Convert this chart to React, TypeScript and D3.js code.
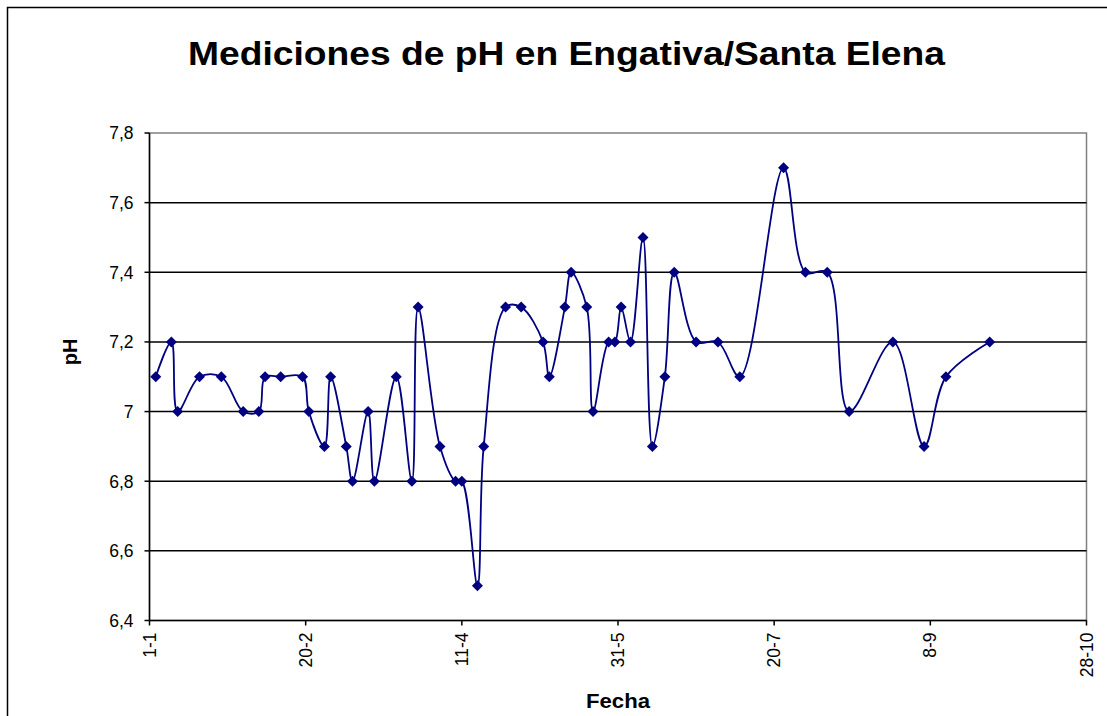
import React from "react";
import * as d3 from "d3";

// Day offset from 1-1 and pH value
const days = [2, 7, 9, 16, 23, 30, 35, 37, 42, 49, 51, 56, 58, 63, 65, 70, 72, 79, 84, 86, 93, 98, 100, 105, 107, 114, 119, 126, 128, 133, 135, 140, 142, 147, 149, 151, 154, 158, 161, 165, 168, 175, 182, 189, 203, 210, 217, 224, 238, 248, 255, 269];
const phValues = [7.1, 7.2, 7.0, 7.1, 7.1, 7.0, 7.0, 7.1, 7.1, 7.1, 7.0, 6.9, 7.1, 6.9, 6.8, 7.0, 6.8, 7.1, 6.8, 7.3, 6.9, 6.8, 6.8, 6.5, 6.9, 7.3, 7.3, 7.2, 7.1, 7.3, 7.4, 7.3, 7.0, 7.2, 7.2, 7.3, 7.2, 7.5, 6.9, 7.1, 7.4, 7.2, 7.2, 7.1, 7.7, 7.4, 7.4, 7.0, 7.2, 6.9, 7.1, 7.2];
const xTickDays = [0, 50, 100, 150, 200, 250, 300];
const xTickLabels = ["1-1", "20-2", "11-4", "31-5", "20-7", "8-9", "28-10"];
const yTicks = [6.4, 6.6, 6.8, 7.0, 7.2, 7.4, 7.6, 7.8];
const yTickLabels = ["6,4", "6,6", "6,8", "7", "7,2", "7,4", "7,6", "7,8"];

const W = 1107;
const H = 716;
const left = 149.5;
const right = 1086.5;
const top = 133;
const bottom = 620.5;

export default function App() {
  const x = d3.scaleLinear().domain([0, 300]).range([left, right]);
  const y = d3.scaleLinear().domain([6.4, 7.8]).range([bottom, top]);
  const pts = days.map((d, i) => [x(d), y(phValues[i])] as [number, number]);
  const line = d3.line().curve(d3.curveCatmullRom.alpha(0.5))(pts) || "";
  const font = "Arial, 'Liberation Sans', sans-serif";

  return (
    <svg width={W} height={H} style={{ position: "absolute", left: 0, top: 0, background: "#fff" }}>
      <rect x={7.5} y={7.5} width={W + 10} height={H + 10} fill="#fff" stroke="#000" strokeWidth={1.5} />
      <text x={566.5} y={65} textAnchor="middle" fontFamily={font} fontWeight="bold" fontSize={33}
        textLength={757} lengthAdjust="spacingAndGlyphs">
        Mediciones de pH en Engativa/Santa Elena
      </text>
      {/* plot area border */}
      <rect x={left} y={top} width={right - left} height={bottom - top} fill="none" stroke="#808080" strokeWidth={1.5} />
      {/* gridlines */}
      {yTicks.slice(1, -1).map((t) => (
        <line key={t} x1={left} x2={right} y1={y(t)} y2={y(t)} stroke="#000" strokeWidth={1.5} />
      ))}
      {/* axes */}
      <line x1={left} x2={left} y1={top} y2={bottom} stroke="#000" strokeWidth={1.5} />
      <line x1={left} x2={right} y1={bottom} y2={bottom} stroke="#000" strokeWidth={1.5} />
      {yTicks.map((t, i) => (
        <g key={"y" + t}>
          <line x1={left - 5} x2={left} y1={y(t)} y2={y(t)} stroke="#000" strokeWidth={1.5} />
          <text x={133.5} y={y(t) + 6.3} textAnchor="end" fontFamily={font} fontSize={17.5}>
            {yTickLabels[i]}
          </text>
        </g>
      ))}
      {xTickDays.map((d, i) => (
        <g key={"x" + d}>
          <line x1={x(d)} x2={x(d)} y1={bottom} y2={bottom + 5} stroke="#000" strokeWidth={1.5} />
          <text
            transform={`translate(${x(d) + 6},${bottom + 12}) rotate(-90)`}
            textAnchor="end"
            fontFamily={font}
            fontSize={17.5}
          >
            {xTickLabels[i]}
          </text>
        </g>
      ))}
      <text transform={`translate(77,352) rotate(-90)`} textAnchor="middle" fontFamily={font} fontWeight="bold" fontSize={20}>
        pH
      </text>
      <text x={618} y={708} textAnchor="middle" fontFamily={font} fontWeight="bold" fontSize={20}
        textLength={64} lengthAdjust="spacingAndGlyphs">
        Fecha
      </text>
      <path d={line} fill="none" stroke="#000080" strokeWidth={1.8} />
      {pts.map(([px, py], i) => (
        <path key={i} d={`M${px},${py - 5.5}L${px + 5.5},${py}L${px},${py + 5.5}L${px - 5.5},${py}Z`} fill="#000080" />
      ))}
    </svg>
  );
}
